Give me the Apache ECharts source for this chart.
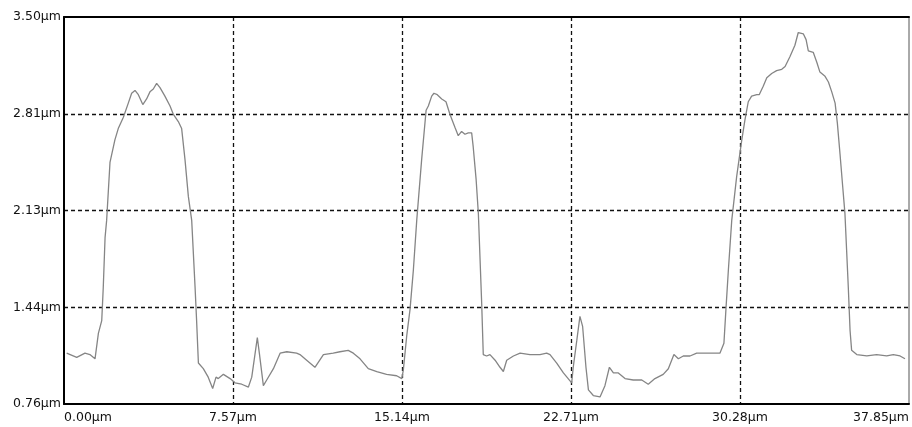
<!DOCTYPE html>
<html>
<head>
<meta charset="utf-8">
<script src="https://cdn.jsdelivr.net/npm/echarts@6/dist/echarts.min.js"></script>
<style>
html,body{margin:0;padding:0;background:#fff;}
#chart{width:912px;height:427px;}
</style>
</head>
<body>
<div id="chart"></div>
<script>
// Profile position (µm)
var xValues = [
0.12,0.57,0.94,1.16,1.39,1.54,1.69,1.76,1.84,1.91,2.06,2.28,2.43,2.66,2.88,3.03,3.18,3.33,3.53,3.70,
3.85,4.00,4.15,4.30,4.52,4.75,4.90,5.12,5.27,5.42,5.57,5.72,5.87,5.94,6.02,6.24,6.46,6.66,6.81,6.91,
7.14,7.44,7.66,7.96,8.26,8.41,8.66,8.75,8.93,9.08,9.38,9.68,9.98,10.42,10.57,10.87,11.24,11.62,12.06,12.36,
12.73,12.96,13.26,13.63,14.01,14.45,14.90,15.13,15.20,15.35,15.50,15.65,15.80,16.02,16.22,16.32,16.47,16.57,16.72,16.92,
17.11,17.29,17.51,17.66,17.81,17.96,18.11,18.26,18.33,18.46,18.56,18.71,18.78,18.93,19.08,19.31,19.53,19.68,19.83,20.13,
20.43,20.87,21.32,21.62,21.77,22.07,22.37,22.74,22.81,22.97,23.11,23.23,23.38,23.49,23.71,24.01,24.23,24.43,24.61,24.83,
25.13,25.50,25.88,26.17,26.47,26.84,27.07,27.32,27.52,27.74,28.04,28.34,28.79,29.38,29.56,29.65,29.76,29.91,30.13,30.36,
30.50,30.65,30.80,31.03,31.14,31.32,31.48,31.70,31.92,32.15,32.30,32.52,32.74,32.89,33.12,33.24,33.34,33.56,33.72,33.86,
34.09,34.24,34.39,34.54,34.64,34.76,34.88,34.98,35.13,35.21,35.28,35.51,35.96,36.40,36.85,37.15,37.45,37.67
];
// Profile height (µm)
var yValues = [
1.12,1.09,1.12,1.11,1.08,1.26,1.35,1.59,1.94,2.06,2.47,2.63,2.71,2.79,2.89,2.96,2.98,2.95,2.88,2.92,
2.97,2.99,3.03,3.00,2.94,2.87,2.81,2.76,2.71,2.49,2.23,2.06,1.59,1.35,1.05,1.01,0.95,0.87,0.95,0.94,
0.97,0.94,0.91,0.90,0.88,0.95,1.23,1.12,0.89,0.93,1.01,1.12,1.13,1.12,1.11,1.07,1.02,1.11,1.12,1.13,
1.14,1.12,1.08,1.01,0.99,0.97,0.96,0.94,1.00,1.24,1.43,1.71,2.06,2.49,2.84,2.87,2.94,2.96,2.95,2.92,
2.90,2.81,2.72,2.66,2.69,2.67,2.68,2.68,2.58,2.35,2.11,1.47,1.11,1.10,1.11,1.07,1.02,0.99,1.07,1.10,
1.12,1.11,1.11,1.12,1.11,1.05,0.98,0.91,1.02,1.21,1.38,1.31,1.02,0.86,0.82,0.81,0.89,1.02,0.98,0.98,
0.94,0.93,0.93,0.90,0.94,0.97,1.01,1.11,1.08,1.10,1.10,1.12,1.12,1.12,1.19,1.43,1.71,2.06,2.37,2.63,
2.77,2.90,2.94,2.95,2.95,3.01,3.07,3.10,3.12,3.13,3.15,3.22,3.30,3.39,3.38,3.34,3.26,3.25,3.18,3.11,
3.08,3.04,2.97,2.89,2.75,2.53,2.30,2.11,1.59,1.28,1.14,1.11,1.10,1.11,1.10,1.11,1.10,1.08
];
var xTickValues = [0, 7.57, 15.14, 22.71, 30.28, 37.85];
var xTickLabels = ['0.00µm', '7.57µm', '15.14µm', '22.71µm', '30.28µm', '37.85µm'];
var yTickValues = [0.76, 1.44, 2.13, 2.81, 3.50];
var yTickLabels = ['0.76µm', '1.44µm', '2.13µm', '2.81µm', '3.50µm'];

var Y_BASE = yTickValues[0];
var Y_STEP = (yTickValues[yTickValues.length - 1] - Y_BASE) / (yTickValues.length - 1);
var X_STEP = xTickValues[1];

var seriesData = xValues.map(function (x, i) { return [x, yValues[i] - Y_BASE]; });

var labelFont = { color: '#111', fontSize: 12.5, fontFamily: 'DejaVu Sans, sans-serif' };
var dashed = { show: true, showMinLine: false, showMaxLine: false,
  lineStyle: { color: '#111', type: [4, 3], width: 1.3 } };

var chart = echarts.init(document.getElementById('chart'), null, { renderer: 'canvas' });
chart.setOption({
  animation: false,
  backgroundColor: '#fff',
  grid: { left: 64, right: 3, top: 17, bottom: 23, show: true, borderColor: '#555', borderWidth: 1, backgroundColor: '#fff' },
  xAxis: [{
    type: 'value', min: 0, max: xTickValues[xTickValues.length - 1], interval: X_STEP,
    axisLine: { show: true, onZero: false, lineStyle: { color: '#000', width: 2 } },
    axisTick: { show: false },
    splitLine: dashed,
    axisLabel: Object.assign({
      margin: 7, alignMinLabel: 'left', alignMaxLabel: 'right',
      formatter: function (v) { return xTickLabels[Math.round(v / X_STEP)]; }
    }, labelFont)
  }, {
    type: 'value', position: 'top', min: 0, max: xTickValues[xTickValues.length - 1], interval: X_STEP,
    axisLine: { show: true, onZero: false, lineStyle: { color: '#000', width: 2 } },
    axisTick: { show: false }, axisLabel: { show: false }, splitLine: { show: false }
  }],
  yAxis: {
    type: 'value', min: 0, max: Y_STEP * (yTickValues.length - 1), interval: Y_STEP,
    axisLine: { show: true, onZero: false, lineStyle: { color: '#000', width: 2 } },
    axisTick: { show: false },
    splitLine: dashed,
    axisLabel: Object.assign({
      margin: 3,
      formatter: function (v) { return yTickLabels[Math.round(v / Y_STEP)]; }
    }, labelFont)
  },
  series: [{
    type: 'line',
    data: seriesData,
    showSymbol: false,
    symbol: 'none',
    lineStyle: { color: '#858585', width: 1.3 },
    z: 1
  }]
});
</script>
</body>
</html>
